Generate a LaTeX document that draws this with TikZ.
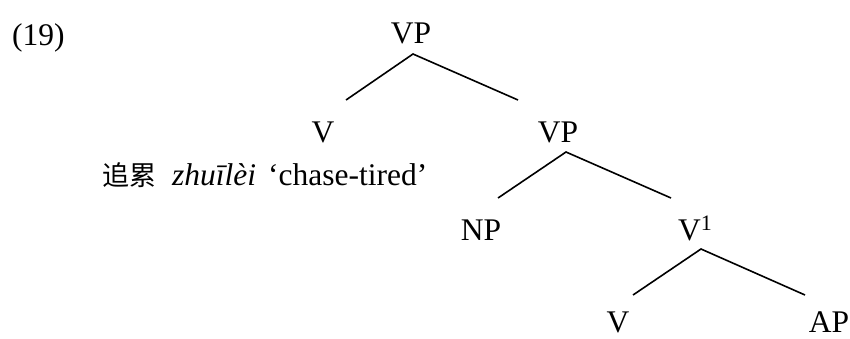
\documentclass[tikz,border=0pt]{standalone}
\usepackage{fontspec}
\setmainfont{Liberation Serif}
\newfontfamily\cjk{Noto Sans CJK SC}
\begin{document}
\begin{tikzpicture}[x=1pt,y=-1pt,
  lab/.style={inner sep=0pt,anchor=base,font=\fontsize{31.5}{36}\selectfont},
  branch/.style={line width=1.6pt}]
\useasboundingbox (0,0) rectangle (850,338);
\node[lab,anchor=base west] (ex) at (12,45) {(19)};
\node[lab] (vp1) at (411,43) {VP};
\node[lab] (v1) at (323,142) {V};
\node[lab] (vp2) at (558,142) {VP};
\node[lab,anchor=base west] (gloss) at (102,185) {{\cjk\fontsize{27}{30}\selectfont 追累}\hspace{16pt}\textit{zhuīlèi}\hspace{12pt}‘chase-tired’};
\node[lab] (np) at (481,240) {NP};
\node[lab,anchor=base west] (vbar) at (678,240) {V\textsuperscript{1}};
\node[lab] (v2) at (618,332) {V};
\node[lab] (ap) at (829,332) {AP};
\coordinate (a1) at (413,54);
\coordinate (l1) at (346,100);
\coordinate (r1) at (518,100);
\coordinate (a2) at (566,152);
\coordinate (l2) at (498,198);
\coordinate (r2) at (671,198);
\coordinate (a3) at (701,249);
\coordinate (l3) at (633,295);
\coordinate (r3) at (805,295);
\draw[branch] (l1) -- (a1) -- (r1);
\draw[branch] (l2) -- (a2) -- (r2);
\draw[branch] (l3) -- (a3) -- (r3);
\end{tikzpicture}
\end{document}
